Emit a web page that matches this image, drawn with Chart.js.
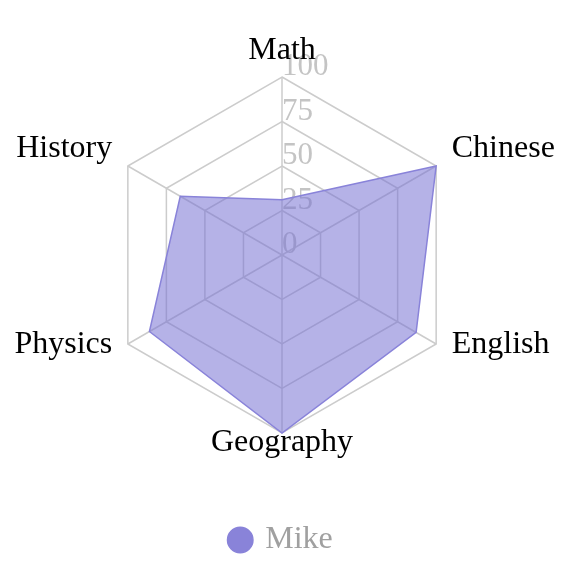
<!DOCTYPE html>
<html>
<head>
<meta charset="utf-8">
<script src="https://cdn.jsdelivr.net/npm/chart.js@4"></script>
<style>
  html, body { margin: 0; padding: 0; background: #fff; }
  #wrap { width: 584px; height: 572px; }
</style>
</head>
<body>
<div id="wrap"><canvas id="radarChart"></canvas></div>
<script>
var subjects = ['Math', 'Chinese', 'English', 'Geography', 'Physics', 'History'];
var mikeScores = [31, 100, 87, 100, 86, 66];
var tickValues = [0, 25, 50, 75, 100];

var serif = '"Liberation Serif", "Times New Roman", serif';

// tick numbers and subject names are drawn at the positions the radial scale gives
var radarText = {
    id: 'radarText',
    beforeDatasetsDraw: function (chart) {
        var s = chart.scales.r;
        var ctx = chart.ctx;
        ctx.save();
        ctx.font = '31px ' + serif;
        ctx.fillStyle = '#c4c4c4';
        ctx.textAlign = 'left';
        ctx.textBaseline = 'alphabetic';
        tickValues.forEach(function (v) {
            var d = s.getDistanceFromCenterForValue(v);
            ctx.fillText(String(v), s.xCenter, s.yCenter - d - 2);
        });
        ctx.font = '32px ' + serif;
        ctx.fillStyle = '#000';
        subjects.forEach(function (name, i) {
            var p = s.getPointPosition(i, s.drawingArea + 18);
            var dx = p.x - s.xCenter;
            ctx.textAlign = Math.abs(dx) < 1 ? 'center' : (dx > 0 ? 'left' : 'right');
            ctx.fillText(name, p.x, p.y);
        });
        ctx.restore();
    }
};

var data = {
    labels: subjects,
    datasets: [{
        label: 'Mike',
        data: mikeScores,
        borderColor: 'rgb(137, 131, 217)',
        backgroundColor: 'rgba(120, 114, 212, 0.55)',
        borderWidth: 1.5,
        pointRadius: 0,
        pointHoverRadius: 0,
    }]
};

var radarConfig = {
    type: 'radar',
    data,
    plugins: [radarText],
    options: {
        responsive: true,
        maintainAspectRatio: false,
        animation: false,
        layout: {
            padding: { left: 104, right: 124, top: 0, bottom: 6 }
        },
        scales: {
            r: {
                min: 0,
                max: 100,
                ticks: { display: false, stepSize: 25 },
                pointLabels: { display: false },
                grid: { color: '#cccccc', lineWidth: 1.5 },
                angleLines: { color: '#cccccc', lineWidth: 1.5 },
            }
        },
        plugins: {
            tooltip: { enabled: false },
            legend: {
                position: 'bottom',
                labels: {
                    usePointStyle: true,
                    pointStyle: 'circle',
                    boxWidth: 18,
                    boxHeight: 18,
                    padding: 14,
                    color: '#a0a0a0',
                    font: { family: serif, size: 32 },
                    generateLabels: function (chart) {
                        var items = Chart.defaults.plugins.legend.labels.generateLabels(chart);
                        items.forEach(function (it) {
                            it.fillStyle = 'rgb(137, 131, 217)';
                            it.strokeStyle = 'rgb(137, 131, 217)';
                        });
                        return items;
                    }
                }
            }
        }
    }
};

var radarChart = new Chart(
    document.getElementById('radarChart'),
    radarConfig,
);
</script>
</body>
</html>
